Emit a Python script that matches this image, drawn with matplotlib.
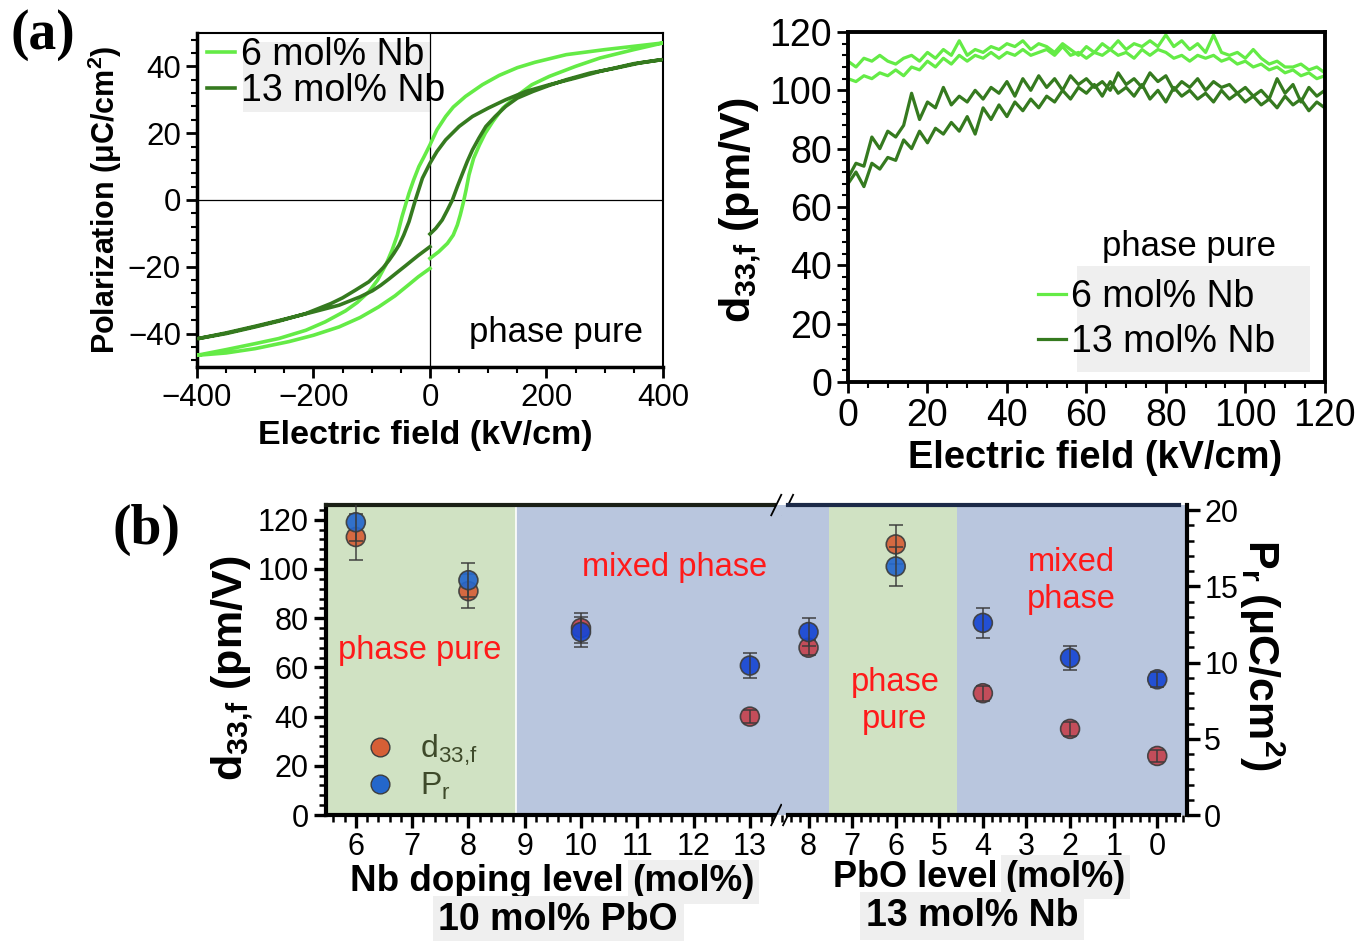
"""Nb-doped PZT films: P-E loops, d33,f vs field and d33,f / Pr vs composition."""

import matplotlib

matplotlib.use("Agg")
import matplotlib.pyplot as plt  # noqa: E402
from matplotlib.lines import Line2D  # noqa: E402
from matplotlib.patches import Rectangle  # noqa: E402
from matplotlib.ticker import MultipleLocator  # noqa: E402

plt.rcParams["font.family"] = ["Liberation Sans", "DejaVu Sans"]
plt.rcParams["mathtext.default"] = "regular"

# ---------------------------------------------------------------- panel (a) P-E
# one continuous sweep each: 0 -> +400 -> -400 -> 0 kV/cm
E_NB6 = [0, 15, 30, 40, 47, 52, 57, 62, 67, 75, 85, 95, 108, 125, 148, 175, 205, 250, 292, 350, 400,
         350, 300, 234, 180, 150, 119, 90, 61, 40, 27, 12, 0, -10, -19, -28, -36, -42, -48, -56,
         -65, -76, -90, -105, -125, -145, -180, -213, -260, -300, -350, -400,
         -350, -300, -242, -200, -156, -120, -88, -60, -36, -20, -8, 0]
P_NB6 = [-17.5, -15.5, -13, -10.5, -7.5, -4.5, -1, 3, 7.5, 12.5, 16.5, 20, 23.5, 27.5, 31, 34.5, 37, 40, 42.5, 45, 47,
         46, 45, 43.5, 41.2, 39.6, 37.3, 34.5, 31, 27.8, 25, 21, 16.5, 13, 10, 6, 2, -1.5, -5, -10.5,
         -15, -19.5, -24, -27.5, -30.7, -33.2, -36.5, -39, -41.5, -43, -44.8, -46.5,
         -45.8, -44.5, -42.4, -40.5, -38, -35.2, -32, -28.7, -25.3, -23, -21.5, -20.5]
E_NB13 = [0, 10, 21, 30, 38.5, 47, 56, 64, 73, 84, 96, 112, 130, 150, 177, 205, 234, 275, 320, 360, 398,
          350, 292, 250, 205, 165, 130, 100, 73, 50, 27, 12, 0, -13, -25, -36, -45, -53, -62, -70, -80, -90,
          -105, -128, -150, -170, -213, -260, -300, -350, -398,
          -350, -300, -250, -200, -156, -120, -99, -85, -70, -55, -42, -30, -20, -10, 0]
P_NB13 = [-10.2, -8.5, -6, -3, 0, 4, 8, 11.5, 15, 18.5, 22, 25, 28, 30.5, 32.5, 34.3, 36, 38, 39.5, 41, 42,
          40.8, 38.5, 36.5, 34.5, 32.5, 30, 27.5, 25, 22, 18, 14.5, 11, 6.5, 0, -6.5, -10.5, -13.5, -16, -18, -20.2, -22,
          -24.5, -27, -29.3, -31, -34, -36.3, -38, -40, -41.5,
          -39.8, -37.8, -35.7, -33.5, -31.5, -29, -27.2, -25.6, -23.6, -21.5, -19.7, -18, -16.6, -15.3, -14]

# ---------------------------------------------------------------- panel (a) d33,f
FIELD = [0, 2, 4, 6, 8, 10, 12, 14, 16, 18, 20, 22, 24, 26, 28, 30, 32, 34, 36, 38, 40,
         42, 44, 46, 48, 50, 52, 54, 56, 58, 60, 62, 64, 66, 68, 70, 72, 74, 76, 78, 80,
         82, 84, 86, 88, 90, 92, 94, 96, 98, 100, 102, 104, 106, 108, 110, 112, 114, 116, 118, 120]
D33_NB6_A = [110, 108, 111, 110, 112, 110, 109, 111, 112, 110, 113, 111, 114, 112, 117, 112, 114, 113, 115, 114, 116,
             115, 117, 114, 116, 115, 113, 116, 114, 112, 115, 113, 116, 114, 117, 114, 116, 115, 117, 115, 119,
             115, 117, 114, 116, 113, 119, 113, 112, 113, 111, 114, 111, 109, 110, 108, 108, 109, 107, 108, 106]
D33_NB6_B = [104, 103, 105, 104, 106, 105, 107, 105, 108, 107, 110, 108, 111, 109, 112, 110, 112, 111, 113, 111, 113,
             112, 114, 112, 113, 114, 112, 115, 112, 113, 111, 113, 112, 114, 112, 113, 111, 114, 112, 114, 113,
             111, 112, 110, 112, 111, 112, 110, 111, 109, 110, 108, 109, 107, 108, 106, 107, 105, 106, 104, 105]
D33_NB13_A = [70, 75, 74, 84, 80, 86, 84, 88, 99, 90, 96, 94, 101, 95, 98, 96, 100, 97, 101, 99, 103,
              98, 104, 100, 105, 101, 104, 100, 105, 102, 104, 101, 103, 100, 106, 102, 104, 101, 106, 103, 105,
              100, 103, 101, 104, 100, 103, 101, 102, 99, 101, 98, 100, 97, 104, 99, 102, 96, 101, 98, 100]
D33_NB13_B = [68, 72, 67, 75, 73, 77, 76, 83, 80, 86, 82, 87, 85, 89, 86, 91, 85, 94, 90, 95, 91,
              96, 93, 97, 94, 98, 96, 100, 97, 101, 99, 102, 98, 103, 99, 101, 98, 102, 97, 100, 96,
              101, 98, 100, 97, 99, 96, 100, 97, 99, 96, 98, 95, 97, 94, 98, 95, 97, 93, 96, 94]

# ---------------------------------------------------------------- panel (b)
NB_LEVEL = [6, 8, 10, 13]
NB_D33 = [113, 91, 76, 40]
NB_D33_ERR = [9.5, 7, 6, 2.5]
NB_PR = [19.2, 15.4, 12.0, 9.8]
NB_PR_ERR = [1.2, 1.1, 1.0, 0.8]

PBO_LEVEL = [8, 6, 4, 2, 0]
PBO_D33 = [68, 110, 49.5, 35, 24]
PBO_D33_ERR = [3, 8, 3, 3, 2.5]
PBO_PR = [12.0, 16.3, 12.6, 10.3, 8.9]
PBO_PR_ERR = [0.9, 1.3, 1.0, 0.8, 0.5]

LIGHT = "#64eb46"
DARK = "#357a1f"
BG_GREEN = "#d0e2c3"
BG_BLUE = "#b9c6de"
TICK_FONT = 22

fig = plt.figure(figsize=(13.68, 9.41), dpi=100)


def style_frame(ax, lw_main=2.5, lw_other=1.5):
    for side in ("left", "bottom"):
        ax.spines[side].set_linewidth(lw_main)
    for side in ("top", "right"):
        ax.spines[side].set_linewidth(lw_other)
    ax.tick_params(which="major", direction="out", length=8, width=2, top=False, right=False)
    ax.tick_params(which="minor", direction="out", length=4.5, width=1.5, top=False, right=False)


# ---- (a) left: hysteresis
ax1 = fig.add_axes([0.144, 0.610, 0.3406, 0.355])
ax1.axhline(0, color="black", lw=0.9, zorder=1)
ax1.axvline(0, color="black", lw=0.9, zorder=1)
ax1.plot(E_NB6, P_NB6, color=LIGHT, lw=2.6, zorder=3, label="6 mol% Nb", solid_joinstyle="round")
ax1.plot(E_NB13, P_NB13, color=DARK, lw=2.6, zorder=3, label="13 mol% Nb", solid_joinstyle="round")
ax1.set_xlim(-400, 400)
ax1.set_ylim(-50, 50)
ax1.xaxis.set_major_locator(MultipleLocator(200))
ax1.xaxis.set_minor_locator(MultipleLocator(50))
ax1.yaxis.set_major_locator(MultipleLocator(20))
ax1.yaxis.set_minor_locator(MultipleLocator(4))
style_frame(ax1)
ax1.tick_params(labelsize=22.5)
ax1.add_patch(Rectangle((0.0987, 0.763), 0.401, 0.21, transform=ax1.transAxes,
                        facecolor="#efefef", edgecolor="none", zorder=0.5))
ax1.legend(loc="upper left", bbox_to_anchor=(0.014, 1.0), frameon=False, fontsize=27,
           handlelength=0.75, handletextpad=0.15, labelspacing=0.02, borderpad=0.1,
           borderaxespad=0)
ax1.text(216, -39.8, "phase pure", fontsize=25, ha="center", va="center")

# ---- (a) right: d33,f vs field
ax2 = fig.add_axes([0.6199, 0.594, 0.3485, 0.372])
ax2.plot(FIELD, D33_NB6_A, color=LIGHT, lw=2.3, label="6 mol% Nb")
ax2.plot(FIELD, D33_NB6_B, color=LIGHT, lw=2.3)
ax2.plot(FIELD, D33_NB13_A, color=DARK, lw=2.3, label="13 mol% Nb")
ax2.plot(FIELD, D33_NB13_B, color=DARK, lw=2.3)
ax2.set_xlim(0, 120)
ax2.set_ylim(0, 120)
ax2.xaxis.set_major_locator(MultipleLocator(20))
ax2.xaxis.set_minor_locator(MultipleLocator(5))
ax2.yaxis.set_major_locator(MultipleLocator(20))
ax2.yaxis.set_minor_locator(MultipleLocator(4))
style_frame(ax2, lw_main=2.8, lw_other=2.8)
ax2.tick_params(labelsize=27)
ax2.add_patch(Rectangle((0.48, 0.029), 0.489, 0.302, transform=ax2.transAxes,
                        facecolor="#efefef", edgecolor="none", zorder=0.5))
ax2.legend(loc="upper left", bbox_to_anchor=(0.39, 0.305), frameon=False, fontsize=27,
           handlelength=0.75, handletextpad=0.15, labelspacing=0.25, borderpad=0.1,
           borderaxespad=0)
ax2.text(85.7, 46.3, "phase pure", fontsize=25, ha="center", va="center")

fig.text(0.0768, 0.7875, "Polarization (μC/cm$^2$)", rotation=90, fontsize=22,
         fontweight="bold", ha="center", va="center")
fig.text(0.3107, 0.5377, "Electric field (kV/cm)", fontsize=24.5, fontweight="bold",
         ha="center", va="center")
fig.text(0.541, 0.777, "d$_{33{,}f}$ (pm/V)", rotation=90, fontsize=31, fontweight="bold",
         ha="center", va="center")
fig.text(0.8004, 0.513, "Electric field (kV/cm)", fontsize=27.4, fontweight="bold",
         ha="center", va="center")

# ---- (b): broken x axis, d33,f left scale, Pr right scale
D33_MAX = 126
PR_MAX = 20.33
axl = fig.add_axes([0.2383, 0.1339, 0.3333, 0.3294])
axr = fig.add_axes([0.5716, 0.1339, 0.2960, 0.3294])
axl2 = axl.twinx()
axr2 = axr.twinx()

axl.set_xlim(5.47, 13.57)
axr.set_xlim(8.61, -0.68)
for ax in (axl, axr):
    ax.set_ylim(0, D33_MAX)
    ax.xaxis.set_major_locator(MultipleLocator(1))
    ax.xaxis.set_minor_locator(MultipleLocator(0.2))
    ax.tick_params(which="major", direction="out", length=9, width=2.4, labelsize=TICK_FONT)
    ax.tick_params(which="minor", direction="out", length=5, width=1.8)
    ax.spines["top"].set_linewidth(3)
    ax.spines["bottom"].set_linewidth(3)

axl.axvspan(5.47, 8.84, color=BG_GREEN, lw=0, zorder=0)
axl.axvspan(8.84, 13.57, color=BG_BLUE, lw=0, zorder=0)
axl.axvline(8.84, color="white", lw=1.2, zorder=0.5)
axr.axvspan(8.61, 7.53, color=BG_BLUE, lw=0, zorder=0)
axr.axvspan(7.53, 4.6, color=BG_GREEN, lw=0, zorder=0)
axr.axvspan(4.6, -0.68, color=BG_BLUE, lw=0, zorder=0)

axl.spines["right"].set_visible(False)
axl.spines["left"].set_linewidth(3)
axl.spines["top"].set_color("#1b2016")
axl.spines["top"].set_bounds(5.47, 13.43)
axl.spines["bottom"].set_bounds(5.47, 13.43)
axl.yaxis.set_major_locator(MultipleLocator(20))
axl.yaxis.set_minor_locator(MultipleLocator(4))
axl.tick_params(axis="y", which="both", right=False)

axr.spines["left"].set_visible(False)
axr.spines["right"].set_visible(False)
axr.spines["top"].set_color("#1c2a48")
axr.spines["top"].set_bounds(8.48, -0.5)
axr.spines["bottom"].set_bounds(8.48, -0.5)
axr.tick_params(axis="y", which="both", left=False, right=False, labelleft=False)

for ax in (axl2, axr2):
    ax.set_ylim(0, PR_MAX)
    for side in ax.spines:
        ax.spines[side].set_visible(False)
axl2.tick_params(axis="y", which="both", left=False, right=False, labelright=False)
axr2.spines["right"].set_visible(True)
axr2.spines["right"].set_linewidth(3)
axr2.yaxis.set_major_locator(MultipleLocator(5))
axr2.yaxis.set_minor_locator(MultipleLocator(1))
axr2.tick_params(which="major", direction="out", length=9, width=2.4, labelsize=TICK_FONT)
axr2.tick_params(which="minor", direction="out", length=5, width=1.8)


def face_colors(levels, lo, hi, green_col, blue_col):
    return [green_col if lo <= v <= hi else blue_col for v in levels]


def draw_points(ax_d, ax_p, levels, d33, d33_err, pr, pr_err, lo, hi):
    ax_d.errorbar(levels, d33, yerr=d33_err, fmt="none", ecolor="#3a3a3a", elinewidth=1.4,
                  capsize=5, capthick=1.4, alpha=0.75, zorder=4)
    ax_d.scatter(levels, d33, s=185, c=face_colors(levels, lo, hi, "#d65f36", "#c4434f"),
                 edgecolors="#3d3d3d", linewidths=1.2, alpha=0.92, zorder=3)
    ax_p.errorbar(levels, pr, yerr=pr_err, fmt="none", ecolor="#3a3a3a", elinewidth=1.4,
                  capsize=5, capthick=1.4, alpha=0.75, zorder=4)
    ax_p.scatter(levels, pr, s=185, c=face_colors(levels, lo, hi, "#2467cc", "#1646d4"),
                 edgecolors="#3d3d3d", linewidths=1.2, alpha=0.92, zorder=3)


draw_points(axl, axl2, NB_LEVEL, NB_D33, NB_D33_ERR, NB_PR, NB_PR_ERR, 5.47, 8.84)
draw_points(axr, axr2, PBO_LEVEL, PBO_D33, PBO_D33_ERR, PBO_PR, PBO_PR_ERR, 4.6, 7.53)

# "//" break marks on the top and bottom spines
for yb in (0.0, 1.0):
    for xb in (0.9875, 1.0135):
        axl.plot([xb - 0.011, xb + 0.011], [yb - 0.033, yb + 0.033], transform=axl.transAxes,
                 color="black", lw=1.3, clip_on=False, zorder=6)

red_kw = dict(color="#ff1a1a", fontsize=23.5, ha="center", va="center", zorder=5)
axl.text(7.13, 66.7, "phase pure", **red_kw)
axl.text(11.67, 100.8, "mixed phase", **red_kw)
axr.text(6.02, 46.3, "phase\npure", linespacing=1.25, **red_kw)
axr.text(1.98, 95, "mixed\nphase", linespacing=1.25, **red_kw)

handles = [Line2D([], [], ls="none", marker="o", ms=13.5, mfc="#d65f36", mec="#3d3d3d"),
           Line2D([], [], ls="none", marker="o", ms=13.5, mfc="#2467cc", mec="#3d3d3d")]
leg = axl.legend(handles, ["d$_{33{,}f}$", "P$_r$"], loc="lower left", bbox_to_anchor=(0.02, 0.0),
                 frameon=False, fontsize=23, handletextpad=0.25, labelspacing=0.1, borderaxespad=0)
for t in leg.get_texts():
    t.set_color("#3e4a2a")

gray_box = dict(facecolor="#efefef", edgecolor="none", pad=3)
fig.text(0.456, 0.0627, "Nb doping level", fontsize=26.5, fontweight="bold", ha="right", va="center")
fig.text(0.462, 0.0627, "(mol%)", fontsize=26.5, fontweight="bold", ha="left", va="center",
         bbox=gray_box)
fig.text(0.408, 0.0223, "10 mol% PbO", fontsize=27, fontweight="bold", ha="center", va="center",
         bbox=dict(facecolor="#efefef", edgecolor="none", pad=4))
fig.text(0.729, 0.068, "PbO level", fontsize=26, fontweight="bold", ha="right", va="center")
fig.text(0.735, 0.068, "(mol%)", fontsize=26, fontweight="bold", ha="left", va="center",
         bbox=gray_box)
fig.text(0.7105, 0.0266, "13 mol% Nb", fontsize=27, fontweight="bold", ha="center", va="center",
         bbox=dict(facecolor="#efefef", edgecolor="none", pad=4))
fig.text(0.1696, 0.290, "d$_{33{,}f}$ (pm/V)", rotation=90, fontsize=31, fontweight="bold",
         ha="center", va="center")
fig.text(0.9225, 0.304, "P$_r$ (μC/cm$^2$)", rotation=270, fontsize=31, fontweight="bold",
         ha="center", va="center")

fig.text(0.031, 0.963, "(a)", fontsize=40, fontweight="bold", family="Liberation Serif",
         ha="center", va="center")
fig.text(0.107, 0.437, "(b)", fontsize=40, fontweight="bold", family="Liberation Serif",
         ha="center", va="center")

fig.savefig("out.png", dpi=100)
